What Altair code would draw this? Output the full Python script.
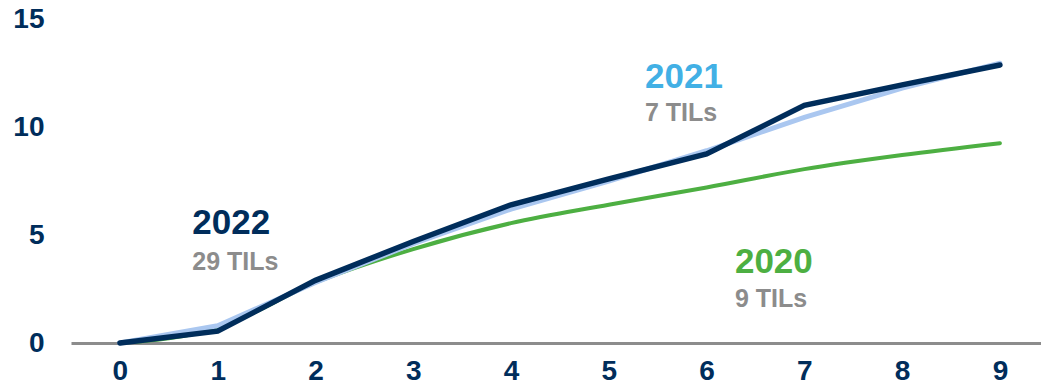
import altair as alt
import pandas as pd

weeks = [0, 1, 2, 3, 4, 5, 6, 7, 8, 9]
y2020 = [0, 0.7, 2.8, 4.35, 5.55, 6.4, 7.2, 8.05, 8.7, 9.25]
y2021 = [0, 0.8, 2.8, 4.6, 6.2, 7.5, 8.9, 10.45, 11.8, 12.95]
y2022 = [0, 0.55, 2.9, 4.7, 6.4, 7.6, 8.75, 11.0, 11.95, 12.87]

series_names = ["2020", "2021", "2022"]
series_colors = ["#4DAF42", "#AAC7F0", "#002D5B"]
series_widths = [4, 5, 5.5]
series_interp = ["monotone", "linear", "linear"]

label_years = ["2022", "2021", "2020"]
label_counts = ["29 TILs", "7 TILs", "9 TILs"]
label_colors = ["#002D5B", "#42B0E5", "#4DAF42"]
label_x = [0.74, 5.37, 6.29]
label_y_year = [5.55, 12.3, 3.75]
label_y_count = [3.75, 10.65, 2.05]

rows = []
for name, vals in zip(series_names, [y2020, y2021, y2022]):
    for w, v in zip(weeks, vals):
        rows.append({"week": w, "value": v, "series": name})
df = pd.DataFrame(rows)

xscale = alt.Scale(domain=[-0.5, 9.42], nice=False, zero=False)
yscale = alt.Scale(domain=[0, 15], nice=False)

xaxis = alt.Axis(values=weeks, title=None, grid=False, ticks=False,
                 domainColor="#8C8C8C", domainWidth=3,
                 labelFont="Liberation Sans", labelFontSize=28, labelFontWeight="bold",
                 labelColor="#002D5B", labelPadding=14, format="d")
yaxis = alt.Axis(values=[0, 5, 10, 15], title=None, grid=False, ticks=False,
                 domain=False, labelFont="Liberation Sans", labelFontSize=28,
                 labelFontWeight="bold", labelColor="#002D5B", labelPadding=27)

layers = []
for name, col, wd, ip in zip(series_names, series_colors, series_widths, series_interp):
    sub = df[df.series == name]
    layers.append(
        alt.Chart(sub).mark_line(color=col, strokeWidth=wd, strokeCap="round",
                                 strokeJoin="miter", interpolate=ip).encode(
            x=alt.X("week:Q", scale=xscale, axis=xaxis),
            y=alt.Y("value:Q", scale=yscale, axis=yaxis),
        )
    )

lab = pd.DataFrame({"x": label_x, "yy": label_y_year, "yc": label_y_count,
                    "year": label_years, "count": label_counts, "color": label_colors})

year_text = alt.Chart(lab).mark_text(align="left", baseline="middle", font="Liberation Sans",
                                     fontSize=35, fontWeight="bold").encode(
    x=alt.X("x:Q", scale=xscale, axis=xaxis),
    y=alt.Y("yy:Q", scale=yscale, axis=yaxis),
    text="year:N",
    color=alt.Color("color:N", scale=None),
)
count_text = alt.Chart(lab).mark_text(align="left", baseline="middle", font="Liberation Sans",
                                      fontSize=25, fontWeight="bold", color="#8C8C8C").encode(
    x=alt.X("x:Q", scale=xscale, axis=xaxis),
    y=alt.Y("yc:Q", scale=yscale, axis=yaxis),
    text="count:N",
)

chart = alt.layer(*layers, year_text, count_text).properties(
    width=970, height=324,
    background="white",
    autosize=alt.AutoSizeParams(type="none"),
    padding={"left": 71, "top": 19, "right": 0, "bottom": 42},
).configure_view(strokeWidth=0, stroke="transparent")

chart.save("out.html", embed_options={"renderer": "svg", "actions": False})
